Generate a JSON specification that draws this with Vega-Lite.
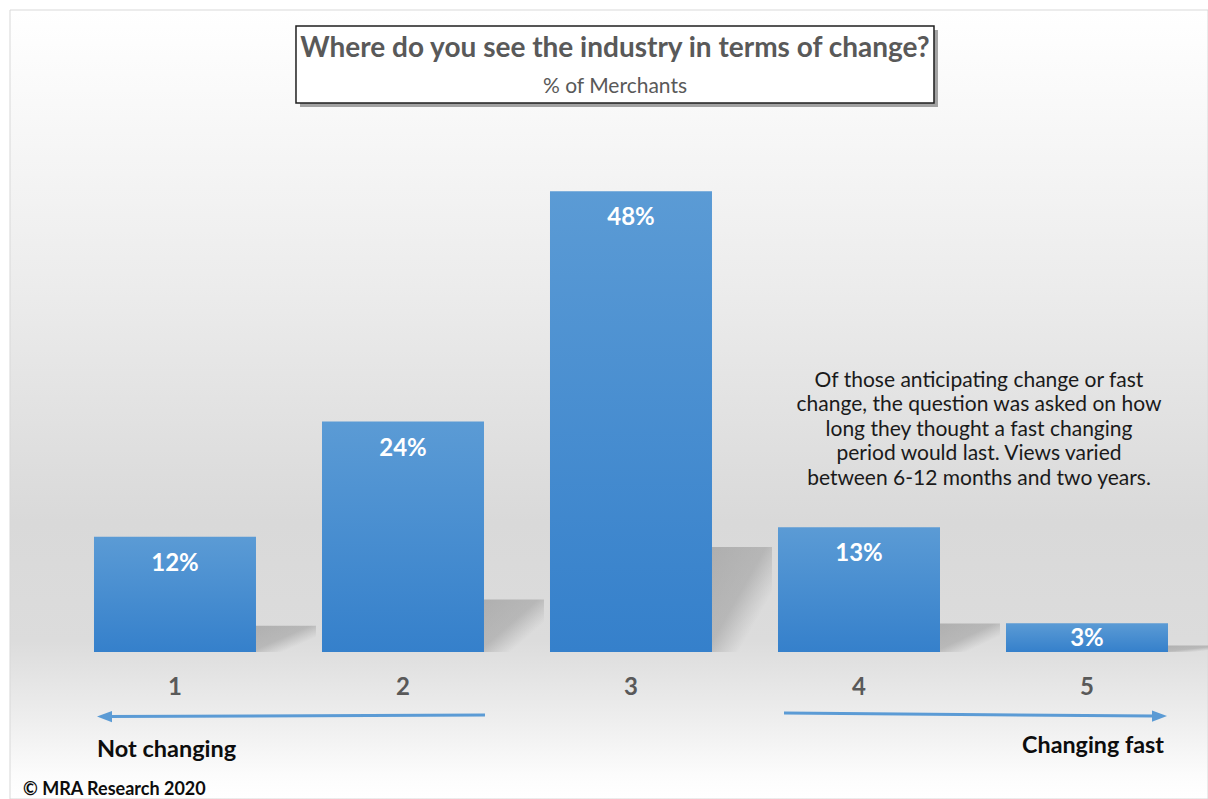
{
  "$schema": "https://vega.github.io/schema/vega-lite/v6.json",
  "width": 1208,
  "height": 799,
  "padding": 0,
  "autosize": "none",
  "background": "#ffffff",
  "config": {"view": {"stroke": null}, "axis": {"disable": true}, "legend": {"disable": true}},
  "datasets": {
    "bars": [
      {"cat": 1, "pct": 12, "label": "12%"},
      {"cat": 2, "pct": 24, "label": "24%"},
      {"cat": 3, "pct": 48, "label": "48%"},
      {"cat": 4, "pct": 13, "label": "13%"},
      {"cat": 5, "pct": 3, "label": "3%"}
    ]
  },
  "resolve": {"scale": {"y": "independent"}},
  "layer": [
    {
      "data": {"values": [{}]},
      "layer": [
        {
          "mark": {"type": "rect", "stroke": "#d9d9d9", "strokeWidth": 1,
            "fill": {"gradient": "linear", "x1": 0, "y1": 0, "x2": 0, "y2": 1,
              "stops": [
                {"offset": 0, "color": "#ffffff"},
                {"offset": 0.1, "color": "#fafafa"},
                {"offset": 0.35, "color": "#ececec"},
                {"offset": 0.65, "color": "#d9d9d9"},
                {"offset": 0.8, "color": "#dcdcdc"},
                {"offset": 0.9, "color": "#eeeeee"},
                {"offset": 0.97, "color": "#fcfcfc"},
                {"offset": 1, "color": "#ffffff"}
              ]}},
          "encoding": {
            "x": {"datum": 0.2763, "type": "quantitative", "scale": {"domain": [0.2325, 5.5307], "nice": false, "zero": false, "padding": 0}},
            "x2": {"datum": 5.5307},
            "y": {"datum": 66.875, "type": "quantitative", "scale": {"domain": [-15.3125, 67.9167], "nice": false, "zero": false, "padding": 0}},
            "y2": {"datum": -15.3125}
          }
        },
        {
          "mark": {"type": "rect", "fill": "#8c8c8c", "opacity": 0.8, "xOffset": 4, "x2Offset": 4, "yOffset": 4, "y2Offset": 4},
          "encoding": {
            "x": {"datum": 1.5307, "type": "quantitative", "scale": {"domain": [0.2325, 5.5307], "nice": false, "zero": false, "padding": 0}},
            "x2": {"datum": 4.3289},
            "y": {"datum": 65.208, "type": "quantitative", "scale": {"domain": [-15.3125, 67.9167], "nice": false, "zero": false, "padding": 0}},
            "y2": {"datum": 57.188}
          }
        },
        {
          "mark": {"type": "rect", "fill": "#ffffff", "stroke": "#1f1f1f", "strokeWidth": 1.5},
          "encoding": {
            "x": {"datum": 1.5307, "type": "quantitative", "scale": {"domain": [0.2325, 5.5307], "nice": false, "zero": false, "padding": 0}},
            "x2": {"datum": 4.3289},
            "y": {"datum": 65.208, "type": "quantitative", "scale": {"domain": [-15.3125, 67.9167], "nice": false, "zero": false, "padding": 0}},
            "y2": {"datum": 57.188}
          }
        },
        {
          "mark": {"type": "text", "text": "Where do you see the industry in terms of change?", "font": "Lato", "fontSize": 28, "fontWeight": "bold", "fill": "#595959", "align": "center", "baseline": "alphabetic"},
          "encoding": {
            "x": {"datum": 2.9298, "type": "quantitative", "scale": {"domain": [0.2325, 5.5307], "nice": false, "zero": false, "padding": 0}},
            "y": {"datum": 62.0, "type": "quantitative", "scale": {"domain": [-15.3125, 67.9167], "nice": false, "zero": false, "padding": 0}}
          }
        },
        {
          "mark": {"type": "text", "text": "% of Merchants", "font": "Lato", "fontSize": 21, "fill": "#595959", "align": "center", "baseline": "alphabetic"},
          "encoding": {
            "x": {"datum": 2.9298, "type": "quantitative", "scale": {"domain": [0.2325, 5.5307], "nice": false, "zero": false, "padding": 0}},
            "y": {"datum": 58.23, "type": "quantitative", "scale": {"domain": [-15.3125, 67.9167], "nice": false, "zero": false, "padding": 0}}
          }
        },
        {
          "mark": {"type": "text", "text": ["Of those anticipating change or fast", "change, the question was asked on how", "long they thought a fast changing", "period would last. Views varied", "between 6-12 months and two years."], "font": "Lato", "fontSize": 21, "lineHeight": 24.4, "fill": "#1a1a1a", "align": "center", "baseline": "alphabetic"},
          "encoding": {
            "x": {"datum": 4.5263, "type": "quantitative", "scale": {"domain": [0.2325, 5.5307], "nice": false, "zero": false, "padding": 0}},
            "y": {"datum": 27.604, "type": "quantitative", "scale": {"domain": [-15.3125, 67.9167], "nice": false, "zero": false, "padding": 0}}
          }
        },
        {
          "mark": {"type": "text", "text": "Not changing", "font": "Lato", "fontSize": 23.5, "fontWeight": "bold", "fill": "#0d0d0d", "align": "left", "baseline": "alphabetic"},
          "encoding": {
            "x": {"datum": 0.6579, "type": "quantitative", "scale": {"domain": [0.2325, 5.5307], "nice": false, "zero": false, "padding": 0}},
            "y": {"datum": -10.9, "type": "quantitative", "scale": {"domain": [-15.3125, 67.9167], "nice": false, "zero": false, "padding": 0}}
          }
        },
        {
          "mark": {"type": "text", "text": "Changing fast", "font": "Lato", "fontSize": 23.3, "fontWeight": "bold", "fill": "#0d0d0d", "align": "right", "baseline": "alphabetic"},
          "encoding": {
            "x": {"datum": 5.3377, "type": "quantitative", "scale": {"domain": [0.2325, 5.5307], "nice": false, "zero": false, "padding": 0}},
            "y": {"datum": -10.49, "type": "quantitative", "scale": {"domain": [-15.3125, 67.9167], "nice": false, "zero": false, "padding": 0}}
          }
        },
        {
          "mark": {"type": "text", "text": "© MRA Research 2020", "font": "Lato", "fontSize": 18, "fontWeight": "bold", "fill": "#0d0d0d", "align": "left", "baseline": "alphabetic"},
          "encoding": {
            "x": {"datum": 0.3333, "type": "quantitative", "scale": {"domain": [0.2325, 5.5307], "nice": false, "zero": false, "padding": 0}},
            "y": {"datum": -14.896, "type": "quantitative", "scale": {"domain": [-15.3125, 67.9167], "nice": false, "zero": false, "padding": 0}}
          }
        },
        {
          "mark": {"type": "rule", "stroke": "#5B9BD5", "strokeWidth": 3},
          "encoding": {
            "x": {"datum": 0.7, "type": "quantitative", "scale": {"domain": [0.2325, 5.5307], "nice": false, "zero": false, "padding": 0}},
            "x2": {"datum": 2.3596},
            "y": {"datum": -6.719, "type": "quantitative", "scale": {"domain": [-15.3125, 67.9167], "nice": false, "zero": false, "padding": 0}},
            "y2": {"datum": -6.5625}
          }
        },
        {
          "mark": {"type": "rule", "stroke": "#5B9BD5", "strokeWidth": 3},
          "encoding": {
            "x": {"datum": 3.6711, "type": "quantitative", "scale": {"domain": [0.2325, 5.5307], "nice": false, "zero": false, "padding": 0}},
            "x2": {"datum": 5.29},
            "y": {"datum": -6.354, "type": "quantitative", "scale": {"domain": [-15.3125, 67.9167], "nice": false, "zero": false, "padding": 0}},
            "y2": {"datum": -6.667}
          }
        },
        {
          "mark": {"type": "point", "shape": "M -1 0 L 1 -0.75 L 1 0.75 Z", "size": 225, "filled": true, "fill": "#5B9BD5", "opacity": 1, "strokeWidth": 0},
          "encoding": {
            "x": {"datum": 0.6908, "type": "quantitative", "scale": {"domain": [0.2325, 5.5307], "nice": false, "zero": false, "padding": 0}},
            "y": {"datum": -6.719, "type": "quantitative", "scale": {"domain": [-15.3125, 67.9167], "nice": false, "zero": false, "padding": 0}}
          }
        },
        {
          "mark": {"type": "point", "shape": "M 1 0 L -1 -0.75 L -1 0.75 Z", "size": 225, "filled": true, "fill": "#5B9BD5", "opacity": 1, "strokeWidth": 0},
          "encoding": {
            "x": {"datum": 5.318, "type": "quantitative", "scale": {"domain": [0.2325, 5.5307], "nice": false, "zero": false, "padding": 0}},
            "y": {"datum": -6.667, "type": "quantitative", "scale": {"domain": [-15.3125, 67.9167], "nice": false, "zero": false, "padding": 0}}
          }
        }
      ]
    },
    {
      "data": {"name": "bars"},
      "mark": {"type": "bar", "orient": "vertical", "width": 60, "xOffset": 111,
        "fill": {"gradient": "linear", "x1": 0, "y1": 0, "x2": 1, "y2": 1,
          "stops": [
            {"offset": 0, "color": "rgba(110,110,110,0.40)"},
            {"offset": 0.45, "color": "rgba(110,110,110,0.33)"},
            {"offset": 0.6, "color": "rgba(110,110,110,0.14)"},
            {"offset": 0.72, "color": "rgba(110,110,110,0)"},
            {"offset": 1, "color": "rgba(110,110,110,0)"}
          ]}},
      "encoding": {
        "x": {"field": "cat", "type": "quantitative", "scale": {"domain": [0.2325, 5.5307], "nice": false, "zero": false, "padding": 0}},
        "y": {"field": "pct", "type": "quantitative", "scale": {"domain": [-67.2, 298.06], "nice": false, "zero": false, "padding": 0}},
        "y2": {"datum": 0}
      }
    },
    {
      "data": {"name": "bars"},
      "layer": [
        {
          "mark": {"type": "bar", "orient": "vertical", "width": 162,
            "fill": {"gradient": "linear", "x1": 0, "y1": 0, "x2": 0, "y2": 1,
              "stops": [
                {"offset": 0, "color": "#5B9BD5"},
                {"offset": 1, "color": "#3580CB"}
              ]}},
          "encoding": {
            "x": {"field": "cat", "type": "quantitative", "scale": {"domain": [0.2325, 5.5307], "nice": false, "zero": false, "padding": 0}},
            "y": {"field": "pct", "type": "quantitative", "scale": {"domain": [-15.3125, 67.9167], "nice": false, "zero": false, "padding": 0}},
            "y2": {"datum": 0}
          }
        },
        {
          "transform": [{"filter": "datum.pct >= 5"}],
          "mark": {"type": "text", "font": "Lato", "fontSize": 24, "fontWeight": "bold", "fill": "#ffffff", "align": "center", "baseline": "alphabetic", "dy": 34},
          "encoding": {
            "x": {"field": "cat", "type": "quantitative", "scale": {"domain": [0.2325, 5.5307], "nice": false, "zero": false, "padding": 0}},
            "y": {"field": "pct", "type": "quantitative", "scale": {"domain": [-15.3125, 67.9167], "nice": false, "zero": false, "padding": 0}},
            "text": {"field": "label"}
          }
        },
        {
          "transform": [{"filter": "datum.pct < 5"}],
          "mark": {"type": "text", "font": "Lato", "fontSize": 24, "fontWeight": "bold", "fill": "#ffffff", "align": "center", "baseline": "alphabetic", "dy": 23},
          "encoding": {
            "x": {"field": "cat", "type": "quantitative", "scale": {"domain": [0.2325, 5.5307], "nice": false, "zero": false, "padding": 0}},
            "y": {"field": "pct", "type": "quantitative", "scale": {"domain": [-15.3125, 67.9167], "nice": false, "zero": false, "padding": 0}},
            "text": {"field": "label"}
          }
        },
        {
          "mark": {"type": "text", "font": "Lato", "fontSize": 24, "fontWeight": "bold", "fill": "#595959", "align": "center", "baseline": "alphabetic"},
          "encoding": {
            "x": {"field": "cat", "type": "quantitative", "scale": {"domain": [0.2325, 5.5307], "nice": false, "zero": false, "padding": 0}},
            "y": {"datum": -4.479, "type": "quantitative", "scale": {"domain": [-15.3125, 67.9167], "nice": false, "zero": false, "padding": 0}},
            "text": {"field": "cat", "type": "quantitative"}
          }
        }
      ]
    }
  ]
}
